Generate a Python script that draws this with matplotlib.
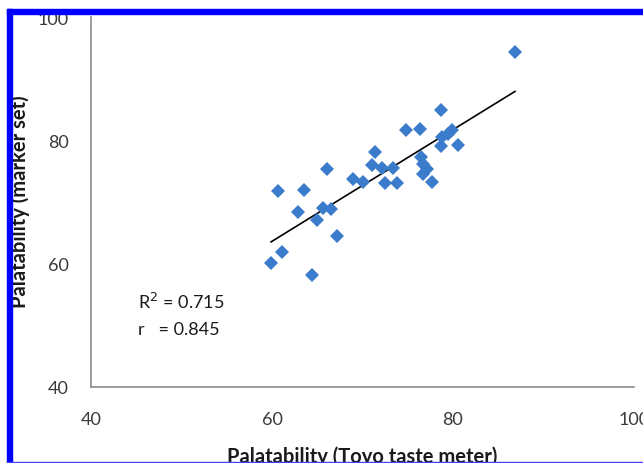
import matplotlib
matplotlib.use("Agg")
import matplotlib.pyplot as plt
import numpy as np
from matplotlib.patches import Rectangle

# Data
toyo = [86.85, 78.64, 74.81, 76.35, 79.45, 79.89, 78.78, 78.64, 80.55, 71.38,
        71.0, 72.12, 73.34, 68.98, 70.06, 72.49, 73.78, 76.46, 76.69, 77.09,
        76.65, 77.65, 66.04, 60.63, 63.57, 62.91, 65.67, 66.52, 64.94, 67.15,
        61.07, 59.89, 64.39]
marker = [94.4, 84.85, 81.66, 81.83, 81.07, 81.72, 80.63, 79.17, 79.33, 78.1,
          76.04, 75.55, 75.55, 73.72, 73.28, 73.07, 73.07, 77.29, 76.2, 75.39,
          74.58, 73.23, 75.28, 71.87, 72.03, 68.36, 69.0, 68.9, 67.16, 64.46,
          61.87, 60.13, 58.18]
x_ticks = [40, 60, 80, 100]
y_ticks = [40, 60, 80, 100]
stats_text = "R$^2$ = 0.715\nr   = 0.845"
xlabel = "Palatability (Toyo taste meter)"
ylabel = "Palatability (marker set)"

plt.rcParams['font.family'] = ['Lato', 'DejaVu Sans']

fig = plt.figure(figsize=(6.43, 4.64), dpi=100)
ax = fig.add_axes([0.1415, 0.1638, 0.986 - 0.1415, 0.961 - 0.1638])

x = np.array(toyo)
y = np.array(marker)
ax.plot(x, y, linestyle='none', marker='D', markersize=7.3,
        color='#3A7BCB', markeredgewidth=0, zorder=3)

# linear trend line over the data range
k, b = np.polyfit(x, y, 1)
xl = np.array([x.min(), x.max()])
ax.plot(xl, k * xl + b, color='black', linewidth=1.2, zorder=2)

ax.set_xlim(40, 100)
ax.set_ylim(40, 100)
ax.set_xticks(x_ticks)
ax.set_yticks(y_ticks)
ax.tick_params(length=0, labelsize=13, labelcolor='#3a3a3a')
ax.tick_params(axis='x', pad=17)
ax.tick_params(axis='y', pad=16)
for s in ['top', 'right']:
    ax.spines[s].set_visible(False)
for s in ['left', 'bottom']:
    ax.spines[s].set_color('#8C8C8C')
    ax.spines[s].set_linewidth(1.2)

fig.text(362 / 643, 1 - 457 / 464, xlabel, fontsize=14.5, fontweight='bold',
         color='#1a1a1a', ha='center', va='center')
fig.text(20 / 643, 1 - 202 / 464, ylabel, fontsize=14.5, fontweight='bold',
         color='#1a1a1a', ha='center', va='center', rotation=90)

ax.text(45.2, 55.6, stats_text, fontsize=13, color='#1a1a1a',
        va='top', ha='left', linespacing=1.75)

# blue frame from the reference crop
fig.patches.append(Rectangle((7/643, 0), 5/643, 1 - 10/464, transform=fig.transFigure,
                             color='#0000FF', zorder=10))
fig.patches.append(Rectangle((7/643, 1 - 15/464), 1, 5/464, transform=fig.transFigure,
                             color='#0000FF', zorder=10))
fig.patches.append(Rectangle((7/643, 0), 1, 1.5/464, transform=fig.transFigure,
                             color='#4040FF', zorder=10))

fig.savefig("out.png", dpi=100)
